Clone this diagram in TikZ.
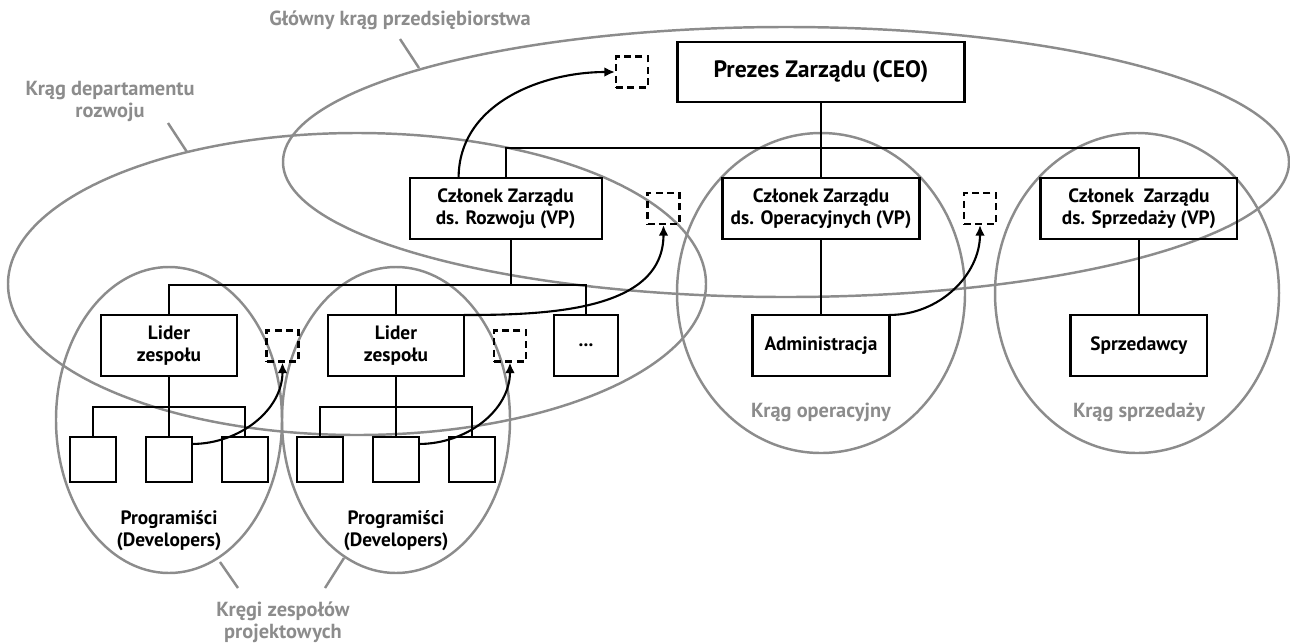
\documentclass[tikz,border=0pt]{standalone}
\usepackage{fontspec}
\setmainfont{PT Sans}
\usetikzlibrary{positioning,arrows.meta}
\definecolor{ringgray}{RGB}{140,140,140}

\begin{document}
\begin{tikzpicture}[x=0.02cm,y=-0.02cm,
    font=\bfseries\fontsize{11}{12.5}\selectfont,
    box/.style={draw, line width=1.2pt, align=center, inner sep=0pt,
      outer sep=0pt, minimum height=1.22cm},
    vpbox/.style={box, minimum width=3.94cm},
    teambox/.style={box, minimum width=2.72cm},
    devbox/.style={box, minimum width=0.92cm, minimum height=0.9cm},
    slot/.style={draw, line width=1.2pt, dash pattern=on 4pt off 2.5pt,
      minimum width=0.64cm, minimum height=0.62cm, inner sep=0pt},
    link/.style={line width=1.2pt},
    flow/.style={line width=1.2pt, -{Latex[length=6pt,width=5.5pt]}},
    ring/.style={draw=ringgray, line width=1.4pt},
    ringlabel/.style={text=ringgray, align=center,
      font=\bfseries\fontsize{11.6}{12.5}\selectfont}]
  \useasboundingbox (0,0) rectangle (1290,643);

  % Circles
  \draw[ring] (786,162) ellipse [x radius=503, y radius=135];
  \draw[ring] (357,284) ellipse [x radius=349, y radius=151];
  \draw[ring] (169,420) ellipse [x radius=113, y radius=153];
  \draw[ring] (396,420) ellipse [x radius=114, y radius=153];
  \draw[ring] (821,293) ellipse [x radius=144, y radius=160];
  \draw[ring] (1137,293) ellipse [x radius=142, y radius=160];

  % Circle labels
  \node[ringlabel] (lblmain) at (400,20) {Główny krąg przedsiębiorstwa};
  \node[ringlabel] (lbldept) at (110,101) {Krąg departamentu\\rozwoju};
  \node[ringlabel] (lblops) at (821,412) {Krąg operacyjny};
  \node[ringlabel] (lblsales) at (1139,412) {Krąg sprzedaży};
  \node[ringlabel] (lblteams) at (283,622) {Kręgi zespołów\\projektowych};
  \coordinate (mainfrom) at (400,39);
  \coordinate (mainto) at (419,68);
  \coordinate (deptfrom) at (168,123);
  \coordinate (deptto) at (187,152);
  \coordinate (teamafrom) at (238,588);
  \coordinate (teamato) at (220,562);
  \coordinate (teambfrom) at (325,588);
  \coordinate (teambto) at (344,558);
  \draw[ring] (mainfrom) -- (mainto);
  \draw[ring] (deptfrom) -- (deptto);
  \draw[ring] (teamafrom) -- (teamato);
  \draw[ring] (teambfrom) -- (teambto);

  % Board
  \node[box, minimum width=5.74cm, minimum height=1.2cm,
    font=\bfseries\fontsize{13.5}{14}\selectfont] (ceo) at (821,72) {Prezes Zarządu (CEO)};
  \node[vpbox, below=1.52cm of ceo] (vpops) {Członek Zarządu\\ds. Operacyjnych (VP)};
  \node[vpbox, minimum width=3.84cm, left=2.42cm of vpops] (vpdev) {Członek Zarządu\\ds. Rozwoju (VP)};
  \node[vpbox, right=2.42cm of vpops] (vpsales) {Członek\ \ Zarządu\\ds. Sprzedaży (VP)};
  \node[teambox, minimum width=2.74cm, below=1.52cm of vpops] (admin) {Administracja};
  \node[teambox, minimum width=2.74cm, below=1.52cm of vpsales] (sellers) {Sprzedawcy};

  % Development department
  \node[teambox] (lead1) at (169,345.5) {Lider\\zespołu};
  \node[teambox, right=1.82cm of lead1] (lead2) {Lider\\zespołu};
  \node[box, minimum width=1.28cm, right=1.8cm of lead2] (leadmore) {...};
  \node[devbox, below=1.22cm of lead1] (dev12) {};
  \node[devbox, left=0.6cm of dev12] (dev11) {};
  \node[devbox, right=0.6cm of dev12] (dev13) {};
  \node[devbox, below=1.22cm of lead2] (dev22) {};
  \node[devbox, left=0.6cm of dev22] (dev21) {};
  \node[devbox, right=0.6cm of dev22] (dev23) {};
  \node[align=center, below=0.45cm of dev12] (devs1) {Programiści\\(Developers)};
  \node[align=center, below=0.45cm of dev22] (devs2) {Programiści\\(Developers)};

  % Empty places
  \node[slot] (slot1) at (632,72) {};
  \node[slot] (slot2) at (663.5,208.5) {};
  \node[slot] (slot3) at (980,208.5) {};
  \node[slot] (slot4) at (282.5,346) {};
  \node[slot] (slot5) at (510,346) {};

  % Lines
  \coordinate (boardbar) at (821,148);
  \coordinate (devbar) at (396,285);
  \coordinate (teambar1) at (169,407);
  \coordinate (teambar2) at (396,407);
  \draw[link] (ceo.south) -- (vpops.north);
  \draw[link] (vpdev.north) |- (boardbar) -| (vpsales.north);
  \draw[link] (vpops.south) -- (admin.north);
  \draw[link] (vpsales.south) -- (sellers.north);
  \draw[link] ([xshift=0.1cm]vpdev.south) -- ([xshift=0.1cm]vpdev.south |- devbar);
  \draw[link] (lead1.north) |- (devbar) -| (leadmore.north);
  \draw[link] (lead2.north) -- (lead2.north |- devbar);
  \draw[link] (lead1.south) -- (dev12.north);
  \draw[link] (dev11.north) |- (teambar1) -| (dev13.north);
  \draw[link] (lead2.south) -- (dev22.north);
  \draw[link] (dev21.north) |- (teambar2) -| (dev23.north);

  % Moves
  \draw[flow] (vpdev.147) to[out=90, in=180] (slot1.west);
  \draw[flow] (lead2.north east) to[out=0, in=-90] (slot2.south);
  \draw[flow] (admin.north east) to[out=0, in=-90] (slot3.south);
  \draw[flow] (dev12.34) to[out=0, in=-90] (slot4.south);
  \draw[flow] (dev22.34) to[out=0, in=-90] (slot5.south);
\end{tikzpicture}
\end{document}
